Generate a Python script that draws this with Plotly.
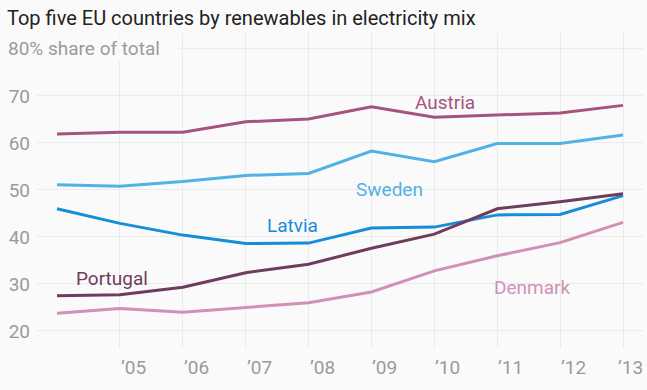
import plotly.graph_objects as go

years = [2004, 2005, 2006, 2007, 2008, 2009, 2010, 2011, 2012, 2013]
austria = [61.9, 62.3, 62.3, 64.5, 65.1, 67.7, 65.5, 65.9, 66.4, 68.0]
sweden = [51.1, 50.8, 51.8, 53.1, 53.5, 58.3, 56.0, 59.9, 59.9, 61.7]
latvia = [46.0, 42.9, 40.4, 38.6, 38.7, 41.9, 42.1, 44.7, 44.8, 48.8]
portugal = [27.5, 27.7, 29.3, 32.4, 34.2, 37.6, 40.6, 46.0, 47.5, 49.2]
denmark = [23.8, 24.8, 24.0, 25.0, 26.0, 28.3, 32.8, 36.0, 38.8, 43.1]

tick_years = [2005, 2006, 2007, 2008, 2009, 2010, 2011, 2012, 2013]
tick_labels = ["’05", "’06", "’07", "’08", "’09", "’10", "’11", "’12", "’13"]
y_ticks = [20, 30, 40, 50, 60, 70, 80]
y_labels = ["20", "30", "40", "50", "60", "70", ""]

series = [
    ("Austria", austria, "#a6537f", 2010.17, 68.6),
    ("Sweden", sweden, "#51b2e5", 2009.29, 50.1),
    ("Latvia", latvia, "#168dd9", 2007.74, 42.4),
    ("Portugal", portugal, "#703c5c", 2004.87, 31.2),
    ("Denmark", denmark, "#d190b6", 2011.55, 29.2),
]

FONT = "Roboto"
GREY = "#9a9a9a"
BG = "#fafafa"

fig = go.Figure()
annotations = []
for name, vals, color, lx, ly in series:
    fig.add_trace(go.Scatter(x=years, y=vals, mode="lines", name=name,
                             line=dict(color=color, width=3), hoverinfo="skip"))
    annotations.append(dict(x=lx, y=ly, xref="x", yref="y", text=name, showarrow=False,
                            font=dict(family=FONT, size=19, color=color),
                            xanchor="center", yanchor="middle"))

for i, (yr, lab) in enumerate(zip(tick_years, tick_labels)):
    last = i == len(tick_years) - 1
    annotations.append(dict(x=yr, y=0, xref="x", yref="paper", text=lab, showarrow=False,
                            font=dict(family=FONT, size=19, color=GREY),
                            xanchor="left", yanchor="middle", yshift=-19,
                            xshift=-7 if last else -1))

annotations.append(dict(x=-30 / 606, y=80, xref="paper", yref="y",
                        text="80% share of total", showarrow=False,
                        font=dict(family=FONT, size=19, color=GREY),
                        xanchor="left", yanchor="middle", align="left",
                        width=170, borderpad=0, bgcolor=BG))

fig.update_layout(
    width=647, height=390,
    margin=dict(l=37, r=4, t=33, b=42),
    paper_bgcolor=BG, plot_bgcolor=BG,
    showlegend=False,
    title=dict(text="Top five EU countries by renewables in electricity mix",
               x=7 / 647, xref="container", xanchor="left",
               y=1 - 18 / 390, yref="container", yanchor="middle",
               font=dict(family=FONT, size=20, color="#222222")),
    xaxis=dict(range=[2003.682, 2013.318], tickvals=tick_years, ticktext=tick_labels,
               showticklabels=False, showgrid=True, gridcolor="#ebebeb", gridwidth=1,
               zeroline=False, showline=False, ticks=""),
    yaxis=dict(range=[16.38, 83.40], tickvals=y_ticks, ticktext=y_labels,
               showgrid=True, gridcolor="#ebebeb", gridwidth=1, zeroline=False,
               showline=False, ticks="", ticklabelstandoff=6,
               tickfont=dict(family=FONT, size=19, color=GREY)),
    annotations=annotations,
)

fig.write_html(
    "out.html",
    config={"displayModeBar": False},
    post_script="document.body.style.margin='0';document.body.style.background='#fafafa';",
)
